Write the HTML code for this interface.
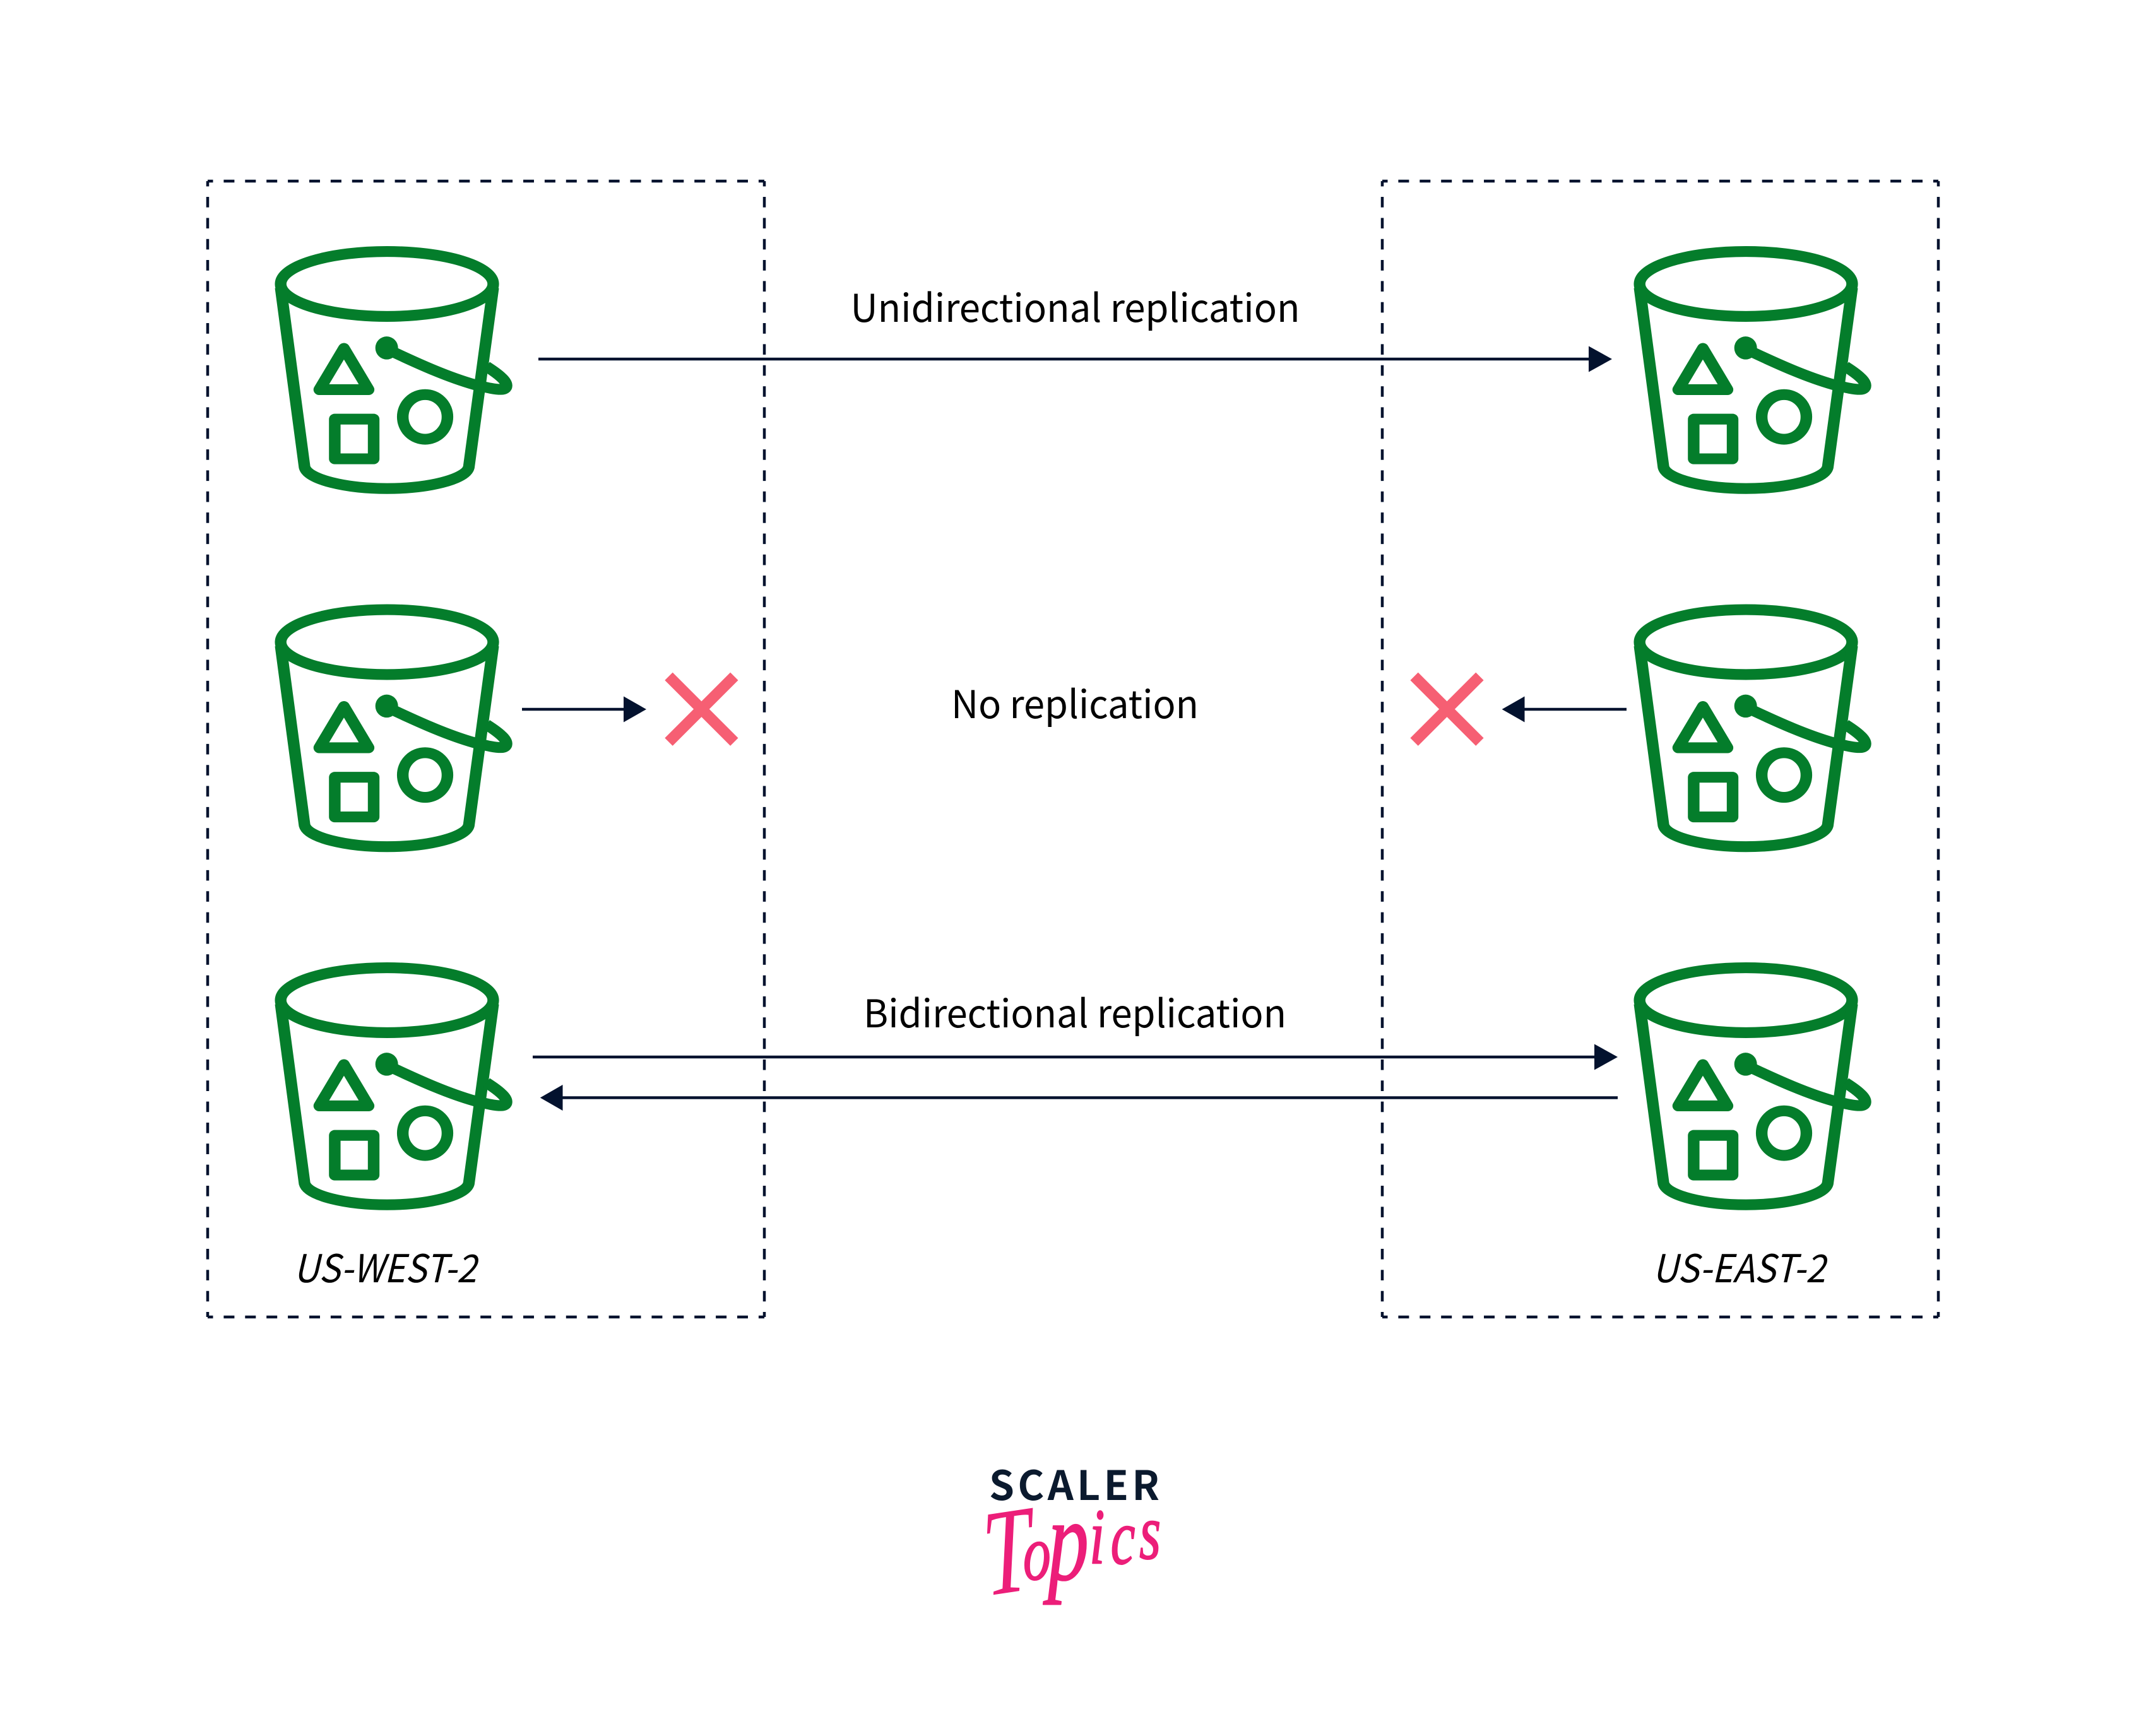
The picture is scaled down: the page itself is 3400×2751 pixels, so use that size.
<!DOCTYPE html>
<html>
<head>
<meta charset="utf-8">
<title>S3 replication diagram</title>
<style>
html,body{margin:0;padding:0;background:#fff;width:3400px;height:2751px;overflow:hidden}
svg{display:block}
.l{font-family:"Noto Sans CJK JP","Liberation Sans",sans-serif;font-size:61px;fill:#000}
.it{font-style:italic}
</style>
</head>
<body>
<svg xmlns="http://www.w3.org/2000/svg" width="3400" height="2751" viewBox="0 0 3400 2751">
<defs>
<g id="b" transform="translate(300,260) scale(0.3827,0.3571)" fill="none" stroke="#047d2b" stroke-width="48" stroke-linejoin="round">
<ellipse cx="818" cy="532" rx="440" ry="144"/>
<path d="M378 548 L477 1345 C490 1400 650 1440 818 1440 C986 1440 1145 1400 1157 1345 L1258 548"/>
<path d="M640 818 L538 1001 L742 1001 Z"/>
<rect x="602" y="1132" width="161" height="176"/>
<ellipse cx="976" cy="1122" rx="92.5" ry="99"/>
<ellipse cx="817" cy="816" rx="47" ry="51" fill="#047d2b" stroke="none"/>
<path d="M850 837 C960 892 1070 945 1181 979 C1225 990 1260 1000 1290 1000 C1320 1000 1322 975 1290 945 C1270 925 1250 912 1230 898"/>
</g>
</defs>

<g fill="none" stroke="#03122e" stroke-width="4.5">
<g stroke-dasharray="17 16.9" stroke-dashoffset="8.5">
<path d="M329 287H1211"/><path d="M329 2087H1211"/>
<path d="M2190 287H3071"/><path d="M2190 2087H3071"/>
</g>
<g stroke-dasharray="16.67 16.67" stroke-dashoffset="8.33">
<path d="M329 287V2087"/><path d="M1211 287V2087"/>
<path d="M2190 287V2087"/><path d="M3071 287V2087"/>
</g>
</g>

<use href="#b"/>
<use href="#b" y="567.5"/>
<use href="#b" y="1135"/>
<use href="#b" x="2153"/>
<use href="#b" x="2153" y="567.5"/>
<use href="#b" x="2153" y="1135"/>

<g stroke="#03122e" stroke-width="4.5" fill="none">
<path d="M853 569H2520"/>
<path d="M827 1124H990"/>
<path d="M2413 1124H2577"/>
<path d="M844 1675H2530"/>
<path d="M889 1739.5H2563"/>
</g>
<g fill="#03122e">
<path d="M2517 548.5L2554 569L2517 589.5Z"/>
<path d="M988 1103.5L1024 1124L988 1144.5Z"/>
<path d="M2415.5 1103.5L2379.6 1124L2415.5 1144.5Z"/>
<path d="M2526 1654.5L2563 1675L2526 1695.5Z"/>
<path d="M891.5 1719L855.8 1739.5L891.5 1760Z"/>
</g>

<g stroke="#f65f73" stroke-width="17.5" fill="none">
<path d="M1059.5 1071.8L1163.3 1175.7M1163.3 1071.8L1059.5 1175.7"/>
<path d="M2240.6 1071.8L2344.4 1175.7M2344.4 1071.8L2240.6 1175.7"/>
</g>

<text class="l" x="1347.5" y="510" textLength="712" lengthAdjust="spacingAndGlyphs">Unidirectional replication</text>
<text class="l" x="1507" y="1138" textLength="392" lengthAdjust="spacingAndGlyphs">No replication</text>
<text class="l" x="1368" y="1628" textLength="670" lengthAdjust="spacingAndGlyphs">Bidirectional replication</text>
<text class="l it" x="465" y="2032" textLength="290" lengthAdjust="spacingAndGlyphs">US-WEST-2</text>
<text class="l it" x="2618" y="2032" textLength="274" lengthAdjust="spacingAndGlyphs">US-EAST-2</text>

<text x="1567" y="2377" font-family="'Noto Sans CJK JP','Liberation Sans',sans-serif" font-weight="700" font-size="64" fill="#0b1a2e" textLength="270" lengthAdjust="spacing">SCALER</text>

<g transform="translate(1558,2383) scale(0.7,1)">
<text font-family="'Liberation Serif',serif" font-style="italic" fill="#ec1e79" stroke="#ec1e79" stroke-width="2" stroke-linejoin="round" font-size="125"><tspan x="6" y="146" font-size="195" stroke-width="0" rotate="-6">T</tspan><tspan x="90" y="120">o</tspan><tspan x="146" y="120" font-size="185">p</tspan><tspan x="240 288 353" y="94 95 87">ics</tspan></text>
</g>
</svg>
</body>
</html>
